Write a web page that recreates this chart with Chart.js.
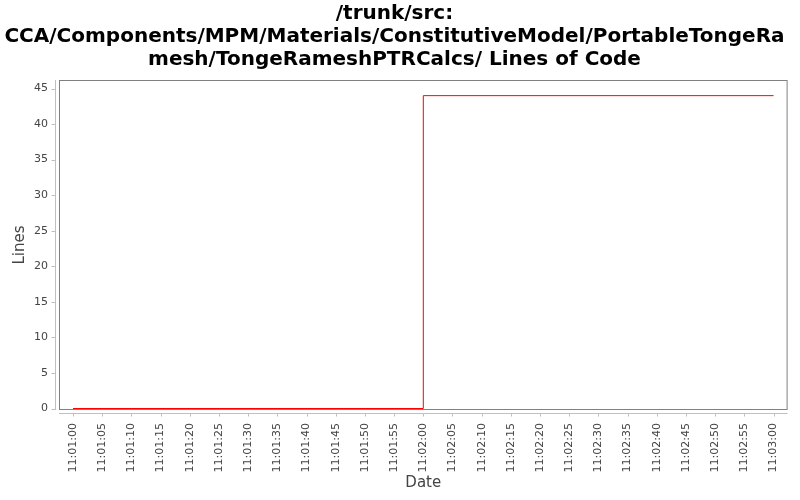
<!DOCTYPE html>
<html>
<head>
<meta charset="utf-8">
<script src="https://cdn.jsdelivr.net/npm/chart.js@4"></script>
<style>
  html, body { margin: 0; padding: 0; background: #fff; }
  #wrap { width: 800px; height: 500px; }
</style>
</head>
<body>
<div id="wrap"><canvas id="c" width="800" height="500"></canvas></div>
<script>
// ---- data ----
const titleLines = ['/trunk/src:', 'CCA/Components/MPM/Materials/ConstitutiveModel/PortableTongeRa', 'mesh/TongeRameshPTRCalcs/ Lines of Code'];
const times = ['11:01:00', '11:02:00', '11:03:00'];
const lineCounts = [0, 44, 44];
const xTickLabels = ['11:01:00','11:01:05','11:01:10','11:01:15','11:01:20','11:01:25','11:01:30','11:01:35','11:01:40','11:01:45','11:01:50','11:01:55','11:02:00','11:02:05','11:02:10','11:02:15','11:02:20','11:02:25','11:02:30','11:02:35','11:02:40','11:02:45','11:02:50','11:02:55','11:03:00'];
const yTickValues = [0, 5, 10, 15, 20, 25, 30, 35, 40, 45];

function toSec(t) {
  const p = t.split(':').map(Number);
  return p[0] * 3600 + p[1] * 60 + p[2];
}
const base = toSec(times[0]);
function fmt(s) {
  const total = Math.round(base + s);
  const h = Math.floor(total / 3600), m = Math.floor((total % 3600) / 60), sec = total % 60;
  const pad = n => String(n).padStart(2, '0');
  return h + ':' + pad(m) + ':' + pad(sec);
}
const points = times.map((t, i) => ({ x: toSec(t) - base, y: lineCounts[i] }));
const xTicks = xTickLabels.map(t => toSec(t) - base);
const span = xTicks[xTicks.length - 1] - xTicks[0];

const axesPlugin = {
  id: 'jfreeAxes',
  afterDraw(chart) {
    const { ctx, chartArea: a, scales } = chart;
    ctx.save();
    // plot outline
    ctx.strokeStyle = '#808080';
    ctx.lineWidth = 1;
    ctx.strokeRect(a.left + 0.5, a.top + 0.5, a.right - a.left - 1, a.bottom - a.top - 1);
    // offset axis lines
    ctx.strokeStyle = '#c0c0c0';
    ctx.beginPath();
    const ax = a.left - 3.5;
    ctx.moveTo(ax, a.top); ctx.lineTo(ax, a.bottom);
    scales.y.ticks.forEach(t => {
      const y = Math.round(scales.y.getPixelForValue(t.value)) + 0.5;
      ctx.moveTo(ax - 4, y); ctx.lineTo(ax, y);
    });
    const ay = a.bottom + 3.5;
    ctx.moveTo(a.left, ay); ctx.lineTo(a.right, ay);
    scales.x.ticks.forEach(t => {
      const x = Math.round(scales.x.getPixelForValue(t.value)) + 0.5;
      ctx.moveTo(x, ay); ctx.lineTo(x, ay + 3);
    });
    ctx.stroke();
    ctx.restore();
  }
};

new Chart(document.getElementById('c'), {
  type: 'line',
  data: {
    datasets: [{
      data: points,
      stepped: true,
      borderColor: '#ff0000',
      borderWidth: 1,
      pointRadius: 0,
      fill: false,
      tension: 0
    }]
  },
  options: {
    responsive: false,
    animation: false,
    devicePixelRatio: 1,
    layout: { padding: { left: 0, right: 11, top: 0, bottom: 0 } },
    plugins: {
      legend: { display: false },
      tooltip: { enabled: false },
      title: {
        display: true,
        text: titleLines,
        color: '#000',
        font: { family: 'DejaVu Sans', size: 20, weight: 'bold', lineHeight: 1.15 },
        padding: { top: 2, bottom: 9 }
      }
    },
    scales: {
      x: {
        type: 'linear',
        min: xTicks[0] - span * 0.02,
        max: xTicks[xTicks.length - 1] + span * 0.02,
        afterBuildTicks: s => { s.ticks = xTicks.map(v => ({ value: v })); },
        afterFit: s => { s.height = 90; },
        grid: { display: false, drawTicks: false },
        border: { display: false },
        ticks: {
          autoSkip: false,
          maxRotation: 90,
          minRotation: 90,
          padding: 13,
          color: '#444444',
          font: { family: 'DejaVu Sans', size: 11 },
          callback: v => fmt(v)
        },
        title: {
          display: true,
          text: 'Date',
          color: '#444444',
          font: { family: 'DejaVu Sans', size: 15 },
          padding: { top: 0, bottom: 8 }
        }
      },
      y: {
        min: -0.21,
        max: 46.2,
        afterBuildTicks: s => { s.ticks = yTickValues.map(v => ({ value: v })); },
        afterFit: s => { s.width = 59; },
        grid: { display: false, drawTicks: false },
        border: { display: false },
        ticks: {
          padding: 11,
          color: '#444444',
          font: { family: 'DejaVu Sans', size: 11 },
          callback: v => String(v)
        },
        title: {
          display: true,
          text: 'Lines',
          color: '#444444',
          font: { family: 'DejaVu Sans', size: 15 },
          padding: { top: 11, bottom: 0 }
        }
      }
    }
  },
  plugins: [axesPlugin]
});
</script>
</body>
</html>
